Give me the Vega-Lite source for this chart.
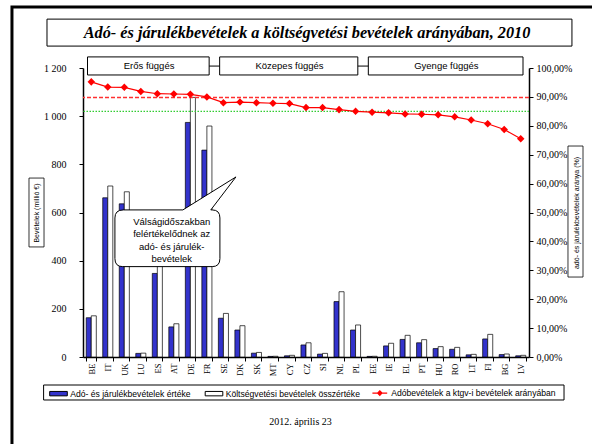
{
  "$schema": "https://vega.github.io/schema/vega-lite/v6.json",
  "autosize": {"type": "none"},
  "padding": {"left": 83, "top": 68, "right": 63, "bottom": 87},
  "width": 446,
  "height": 289,
  "background": "white",
  "datasets": {
    "eu": [
      {"c": "BE", "ado": 163, "kv": 171, "r": 0.952},
      {"c": "IT", "ado": 661, "kv": 710, "r": 0.934},
      {"c": "UK", "ado": 636, "kv": 686, "r": 0.933},
      {"c": "LU", "ado": 15, "kv": 16, "r": 0.919},
      {"c": "ES", "ado": 347, "kv": 381, "r": 0.911},
      {"c": "AT", "ado": 125, "kv": 138, "r": 0.91},
      {"c": "DE", "ado": 974, "kv": 1078, "r": 0.909},
      {"c": "FR", "ado": 859, "kv": 959, "r": 0.9},
      {"c": "SE", "ado": 161, "kv": 181, "r": 0.88},
      {"c": "DK", "ado": 112, "kv": 130, "r": 0.882},
      {"c": "SK", "ado": 16, "kv": 19, "r": 0.88},
      {"c": "MT", "ado": 2.5, "kv": 3, "r": 0.878},
      {"c": "CY", "ado": 5, "kv": 7, "r": 0.877},
      {"c": "CZ", "ado": 50, "kv": 59, "r": 0.863},
      {"c": "SI", "ado": 12, "kv": 15, "r": 0.863},
      {"c": "NL", "ado": 230, "kv": 271, "r": 0.856},
      {"c": "PL", "ado": 112, "kv": 133, "r": 0.85},
      {"c": "EE", "ado": 2.5, "kv": 3, "r": 0.847},
      {"c": "IE", "ado": 46, "kv": 57, "r": 0.845},
      {"c": "EL", "ado": 73, "kv": 90, "r": 0.841},
      {"c": "PT", "ado": 59, "kv": 72, "r": 0.84},
      {"c": "HU", "ado": 35, "kv": 43, "r": 0.838},
      {"c": "RO", "ado": 32, "kv": 40, "r": 0.831},
      {"c": "LT", "ado": 9, "kv": 11, "r": 0.82},
      {"c": "FI", "ado": 75, "kv": 94, "r": 0.807},
      {"c": "BG", "ado": 10, "kv": 12.5, "r": 0.787},
      {"c": "LV", "ado": 5, "kv": 7, "r": 0.755}
    ],
    "groups": [
      {"g": "Erős függés", "s": 0, "e": 8, "m": 4},
      {"g": "Közepes függés", "s": 8, "e": 17, "m": 12.5},
      {"g": "Gyenge függés", "s": 17, "e": 27, "m": 22}
    ]
  },
  "layer": [
    {
      "data": {"values": [{}]},
      "mark": {"type": "rect", "fill": "white", "fillOpacity": 0, "stroke": "black", "strokeWidth": 3},
      "encoding": {
        "x": {"datum": -4.3, "type": "quantitative", "scale": {"domain": [0, 27], "nice": false, "zero": false}, "axis": null},
        "x2": {"datum": 40},
        "y": {"datum": 1453, "type": "quantitative", "scale": {"domain": [0, 1200], "nice": false}, "axis": null},
        "y2": {"datum": -1000}
      }
    },
    {
      "data": {"values": [{}]},
      "mark": {"type": "rect", "fill": "white", "stroke": "black", "strokeWidth": 1},
      "encoding": {
        "x": {"datum": -2.18, "type": "quantitative", "scale": {"domain": [0, 27], "nice": false, "zero": false}, "axis": null},
        "x2": {"datum": 29.6},
        "y": {"datum": 1403, "type": "quantitative", "scale": {"domain": [0, 1200], "nice": false}, "axis": null},
        "y2": {"datum": 1291}
      }
    },
    {
      "data": {"values": [{}]},
      "mark": {"type": "text", "font": "Liberation Serif", "fontStyle": "italic", "fontWeight": "bold", "fontSize": 16.3, "align": "center", "baseline": "middle", "color": "black"},
      "encoding": {
        "x": {"datum": 13.56, "type": "quantitative", "scale": {"domain": [0, 27], "nice": false, "zero": false}, "axis": null},
        "y": {"datum": 1345, "type": "quantitative", "scale": {"domain": [0, 1200], "nice": false}, "axis": null},
        "text": {"value": "Adó- és járulékbevételek a költségvetési bevételek arányában, 2010"}
      }
    },
    {
      "data": {"values": [{}]},
      "mark": {"type": "rect", "fill": "white", "fillOpacity": 0, "stroke": "black", "strokeWidth": 0.8},
      "encoding": {
        "x": {"datum": -3.27, "type": "quantitative", "scale": {"domain": [0, 27], "nice": false, "zero": false}, "axis": null},
        "x2": {"datum": -2.36},
        "y": {"datum": 743, "type": "quantitative", "scale": {"domain": [0, 1200], "nice": false}, "axis": null},
        "y2": {"datum": 457}
      }
    },
    {
      "data": {"values": [{}]},
      "mark": {"type": "rect", "fill": "white", "fillOpacity": 0, "stroke": "black", "strokeWidth": 0.8},
      "encoding": {
        "x": {"datum": 29.36, "type": "quantitative", "scale": {"domain": [0, 27], "nice": false, "zero": false}, "axis": null},
        "x2": {"datum": 30.27},
        "y": {"datum": 876, "type": "quantitative", "scale": {"domain": [0, 1200], "nice": false}, "axis": null},
        "y2": {"datum": 332}
      }
    },
    {
      "data": {"values": [{}]},
      "mark": {"type": "rect", "fill": "white", "stroke": "black", "strokeWidth": 1},
      "encoding": {
        "x": {"datum": -2.385, "type": "quantitative", "scale": {"domain": [0, 27], "nice": false, "zero": false}, "axis": null},
        "x2": {"datum": 29.12},
        "y": {"datum": -116.3, "type": "quantitative", "scale": {"domain": [0, 1200], "nice": false}, "axis": null},
        "y2": {"datum": -178.5}
      }
    },
    {
      "data": {"values": [{}]},
      "mark": {"type": "text", "font": "Liberation Serif", "fontSize": 10, "align": "center", "baseline": "middle", "color": "black"},
      "encoding": {
        "x": {"datum": 13.17, "type": "quantitative", "scale": {"domain": [0, 27], "nice": false, "zero": false}, "axis": null},
        "y": {"datum": -268.7, "type": "quantitative", "scale": {"domain": [0, 1200], "nice": false}, "axis": null},
        "text": {"value": "2012. április 23"}
      }
    },
    {
      "data": {"values": [{}]},
      "mark": {"type": "rule", "stroke": "black", "strokeWidth": 1},
      "encoding": {
        "x": {"datum": 0.3, "type": "quantitative", "scale": {"domain": [0, 27], "nice": false, "zero": false}, "axis": null},
        "x2": {"datum": 26.6},
        "y": {"datum": 1208, "type": "quantitative", "scale": {"domain": [0, 1200], "nice": false}, "axis": null}
      }
    },
    {
      "data": {"name": "groups"},
      "mark": {"type": "rect", "fill": "white", "stroke": "black", "strokeWidth": 1, "xOffset": 4.5, "x2Offset": -6},
      "encoding": {
        "x": {"field": "s", "type": "quantitative", "scale": {"domain": [0, 27], "nice": false, "zero": false}, "axis": null},
        "x2": {"field": "e"},
        "y": {"datum": 1246, "type": "quantitative", "scale": {"domain": [0, 1200], "nice": false}, "axis": null},
        "y2": {"datum": 1171}
      }
    },
    {
      "data": {"name": "groups"},
      "mark": {"type": "text", "font": "Liberation Sans", "fontSize": 9.5, "align": "center", "baseline": "middle", "color": "black"},
      "encoding": {
        "x": {"field": "m", "type": "quantitative", "scale": {"domain": [0, 27], "nice": false, "zero": false}, "axis": null},
        "y": {"datum": 1208, "type": "quantitative", "scale": {"domain": [0, 1200], "nice": false}, "axis": null},
        "text": {"field": "g"}
      }
    },
    {
      "data": {"name": "eu"},
      "transform": [{"fold": ["ado", "kv"], "as": ["series", "value"]}],
      "mark": {"type": "bar", "stroke": "black", "strokeWidth": 0.7},
      "encoding": {
        "x": {
          "field": "c", "type": "nominal",
          "scale": {"domain": ["BE","IT","UK","LU","ES","AT","DE","FR","SE","DK","SK","MT","CY","CZ","SI","NL","PL","EE","IE","EL","PT","HU","RO","LT","FI","BG","LV"], "paddingInner": 0.39, "paddingOuter": 0.195},
          "axis": {"title": null, "labelAngle": 270, "labelFont": "Liberation Serif", "labelFontSize": 8.5, "labelColor": "black", "tickBand": "extent", "tickSize": 4, "tickColor": "black", "domainColor": "black", "domainWidth": 1.5, "labelPadding": 2}
        },
        "xOffset": {"field": "series", "type": "nominal", "scale": {"domain": ["ado", "kv"], "paddingInner": 0, "paddingOuter": 0}},
        "y": {
          "field": "value", "type": "quantitative",
          "scale": {"domain": [0, 1200], "nice": false},
          "axis": {"orient": "left", "values": [0, 200, 400, 600, 800, 1000, 1200], "labelExpr": "replace(format(datum.value, ','), ',', ' ')", "labelFont": "Liberation Serif", "labelFontSize": 10, "labelColor": "black", "tickSize": 4, "tickColor": "black", "domainColor": "black", "domainWidth": 1.5, "labelPadding": 13, "grid": false,
            "title": "Bevételek (millió €)", "titleFont": "Liberation Sans", "titleFontSize": 7, "titleFontWeight": "normal", "titleColor": "black", "titleAngle": 270, "titleX": -47, "titleY": 144.5, "titleAlign": "center", "titleBaseline": "middle"}
        },
        "color": {
          "field": "series", "type": "nominal",
          "scale": {"domain": ["ado", "kv"], "range": ["#3333cc", "#ffffff"]},
          "legend": {
            "orient": "none", "legendX": -34, "legendY": 315.7, "direction": "horizontal", "columns": 2, "title": null,
            "padding": 0,
            "labelFont": "Liberation Sans", "labelFontSize": 8.6, "labelColor": "black", "labelOffset": 2.2, "columnPadding": 11.5, "labelLimit": 0,
            "symbolSize": 310, "symbolStrokeWidth": 1, "symbolStrokeColor": "black",
            "symbolType": "M-1,-0.25H1V0.25H-1Z",
            "labelExpr": "datum.value === 'ado' ? 'Adó- és járulékbevételek értéke' : 'Költségvetési bevételek összértéke'"
          }
        }
      }
    },
    {
      "data": {"values": [{}]},
      "mark": {"type": "rule", "stroke": "#ff3030", "strokeWidth": 1.4, "strokeDash": [4, 2], "opacity": 1},
      "encoding": {
        "y": {"datum": 0.898, "type": "quantitative", "scale": {"domain": [0, 1], "nice": false}, "axis": null}
      }
    },
    {
      "data": {"values": [{}]},
      "mark": {"type": "rule", "stroke": "#33cc33", "strokeWidth": 1.2, "strokeDash": [1.5, 1.5], "opacity": 1},
      "encoding": {
        "y": {"datum": 0.85, "type": "quantitative", "scale": {"domain": [0, 1], "nice": false}, "axis": null}
      }
    },
    {
      "data": {"name": "eu"},
      "mark": {"type": "line", "strokeWidth": 1.2, "color": "#ff0000", "point": {"filled": true, "shape": "diamond", "size": 22, "fill": "#ff0000", "color": "#ff0000"}},
      "encoding": {
        "x": {"field": "c", "type": "nominal", "scale": {"type": "point", "padding": 0.5, "domain": ["BE","IT","UK","LU","ES","AT","DE","FR","SE","DK","SK","MT","CY","CZ","SI","NL","PL","EE","IE","EL","PT","HU","RO","LT","FI","BG","LV"]}, "axis": null},
        "y": {
          "field": "r", "type": "quantitative",
          "scale": {"domain": [0, 1], "nice": false},
          "axis": {"orient": "right", "values": [0, 0.1, 0.2, 0.3, 0.4, 0.5, 0.6, 0.7, 0.8, 0.9, 1], "labelExpr": "replace(format(datum.value, '.2%'), '.', ',')", "labelFont": "Liberation Serif", "labelFontSize": 10, "labelColor": "black", "tickSize": 4, "tickColor": "black", "domainColor": "black", "domainWidth": 1.5, "labelPadding": 3, "grid": false,
            "title": "adó- és járulékbevételek aránya (%)", "titleFont": "Liberation Sans", "titleFontSize": 7, "titleFontWeight": "normal", "titleColor": "black", "titleAngle": 270, "titleX": 47, "titleY": 144.5, "titleAlign": "center", "titleBaseline": "middle"}
        },
        "stroke": {
          "datum": "arany", "type": "nominal",
          "scale": {"domain": ["arany"], "range": ["#ff0000"]},
          "legend": {
            "orient": "none", "legendX": 288.8, "legendY": 317.1, "title": null, "padding": 0,
            "labelFont": "Liberation Sans", "labelFontSize": 8.6, "labelColor": "black", "labelOffset": 3.4, "labelLimit": 0,
            "symbolSize": 219, "symbolStrokeWidth": 1.2, "symbolFillColor": "#ff0000",
            "symbolType": "M-1,0H1M-0.3,0L0,-0.3L0.3,0L0,0.3Z",
            "labelExpr": "'Adóbevételek a ktgv-i bevételek arányában'"
          }
        }
      }
    },
    {
      "data": {"values": [{}]},
      "mark": {"type": "point", "filled": true, "fill": "white", "stroke": "black", "strokeWidth": 1, "opacity": 1, "size": 19600,
        "shape": "M-0.63,-0.405L0.221,-0.405L0.979,-0.876L0.62,-0.405L0.64,-0.405Q0.75,-0.405 0.75,-0.29L0.75,0.29Q0.75,0.405 0.64,0.405L-0.64,0.405Q-0.75,0.405 -0.75,0.29L-0.75,-0.29Q-0.75,-0.405 -0.63,-0.405Z"},
      "encoding": {
        "x": {"datum": 5.11, "type": "quantitative", "scale": {"domain": [0, 27], "nice": false, "zero": false}, "axis": null},
        "y": {"datum": 493, "type": "quantitative", "scale": {"domain": [0, 1200], "nice": false}, "axis": null}
      }
    },
    {
      "data": {"values": [{}]},
      "mark": {"type": "text", "font": "Liberation Sans", "fontSize": 9.5, "align": "center", "baseline": "middle", "lineHeight": 12.3, "color": "black"},
      "encoding": {
        "x": {"datum": 5.37, "type": "quantitative", "scale": {"domain": [0, 27], "nice": false, "zero": false}, "axis": null},
        "y": {"datum": 560, "type": "quantitative", "scale": {"domain": [0, 1200], "nice": false}, "axis": null},
        "text": {"value": ["Válságidőszakban", "felértékelődnek az", "adó- és járulék-", "bevételek"]}
      }
    }
  ],
  "resolve": {"scale": {"x": "independent", "y": "independent"}},
  "config": {
    "view": {"stroke": null},
    "axis": {"grid": false}
  }
}
